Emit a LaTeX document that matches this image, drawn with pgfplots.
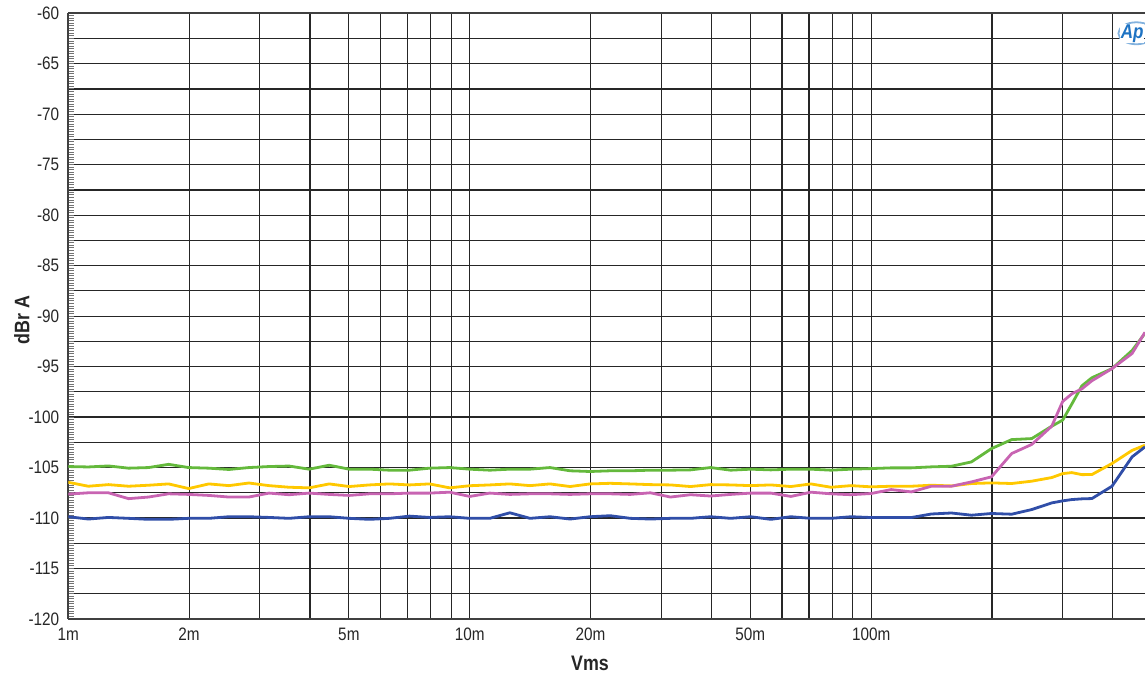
\documentclass[border=0pt]{standalone}
\usepackage{fontspec}
\setmainfont{Liberation Sans}[FakeStretch=0.85]
\usepackage{pgfplots}
\usepackage{pgfplotstable}
\pgfplotsset{compat=1.18}
\definecolor{cgreen}{RGB}{100,185,60}
\definecolor{cyellow}{RGB}{255,200,0}
\definecolor{cpink}{RGB}{200,100,178}
\definecolor{cblue}{RGB}{48,78,168}
\definecolor{apblue}{RGB}{30,115,195}
\pgfplotstableread{
x        g       y       p       b
0.001000 -104.90 -106.46 -107.63 -109.87
0.001122 -104.94 -106.85 -107.50 -110.10
0.001259 -104.84 -106.69 -107.50 -109.94
0.001413 -105.06 -106.85 -108.08 -110.03
0.001585 -105.00 -106.75 -107.92 -110.13
0.001778 -104.68 -106.62 -107.60 -110.13
0.001995 -105.00 -107.08 -107.66 -110.03
0.002239 -105.06 -106.62 -107.76 -110.03
0.002512 -105.19 -106.79 -107.92 -109.87
0.002818 -105.00 -106.53 -107.92 -109.87
0.003162 -104.90 -106.79 -107.53 -109.94
0.003548 -104.85 -106.95 -107.69 -110.03
0.003981 -105.16 -107.01 -107.53 -109.87
0.004467 -104.77 -106.62 -107.66 -109.87
0.005012 -105.16 -106.88 -107.76 -110.03
0.005623 -105.16 -106.72 -107.60 -110.13
0.006310 -105.26 -106.62 -107.60 -110.03
0.007079 -105.26 -106.72 -107.53 -109.81
0.007943 -105.06 -106.62 -107.53 -109.94
0.008913 -105.00 -107.01 -107.44 -109.87
0.01000  -105.16 -106.80 -107.86 -110.03
0.01122  -105.26 -106.72 -107.53 -110.03
0.01259  -105.16 -106.62 -107.66 -109.48
0.01413  -105.16 -106.79 -107.60 -110.03
0.01585  -105.00 -106.62 -107.60 -109.87
0.01778  -105.32 -106.88 -107.66 -110.10
0.01995  -105.39 -106.62 -107.60 -109.87
0.02239  -105.32 -106.56 -107.60 -109.77
0.02512  -105.32 -106.62 -107.66 -110.03
0.02818  -105.26 -106.69 -107.50 -110.10
0.03162  -105.26 -106.72 -107.92 -110.03
0.03548  -105.23 -106.88 -107.69 -110.03
0.03981  -105.00 -106.69 -107.82 -109.87
0.04467  -105.26 -106.72 -107.66 -110.03
0.05012  -105.16 -106.79 -107.53 -109.87
0.05623  -105.23 -106.72 -107.53 -110.13
0.06310  -105.16 -106.88 -107.86 -109.87
0.07079  -105.16 -106.62 -107.44 -110.03
0.07943  -105.26 -106.95 -107.60 -110.03
0.08913  -105.16 -106.79 -107.69 -109.87
0.1000   -105.10 -106.91 -107.57 -109.95
0.1122   -105.03 -106.85 -107.18 -109.95
0.1259   -105.03 -106.85 -107.41 -109.95
0.1413   -104.93 -106.75 -106.85 -109.60
0.1585   -104.87 -106.82 -106.85 -109.50
0.1778   -104.44 -106.58 -106.42 -109.72
0.1995   -103.12 -106.52 -105.92 -109.55
0.2239   -102.23 -106.58 -103.61 -109.62
0.2512   -102.13 -106.35 -102.71 -109.16
0.2818   -100.90 -105.99 -100.90 -108.50
0.3000   -100.30 -105.60 -98.45  -108.30
0.3162   -98.70  -105.50 -97.70  -108.17
0.3350   -96.90  -105.70 -97.20  -108.10
0.3548   -96.10  -105.69 -96.40  -108.07
0.3981   -95.20  -104.60 -95.20  -106.85
0.4467   -93.40  -103.30 -93.70  -103.94
0.4810   -91.70  -102.79 -91.60  -102.95
}\data
\begin{document}
\begin{tikzpicture}
\begin{axis}[
  name=ax,
  scale only axis,
  width=538.35pt, height=302.85pt,
  xmode=log,
  xmin=0.001, xmax=0.481,
  ymin=-120, ymax=-60,
  axis x line*=box, axis y line*=left,
  axis line style={black!75, line width=0.8pt},
  xtick={0.001,0.002,0.005,0.01,0.02,0.05,0.1},
  xticklabels={1m,2m,5m,10m,20m,50m,100m},
  minor xtick={0.003,0.004,0.006,0.007,0.008,0.009,0.03,0.04,0.06,0.07,0.08,0.09,0.2,0.3,0.4},
  ytick={-120,-117.5,...,-60},
  yticklabels={-120,{},-115,{},-110,{},-105,{},-100,{},-95,{},-90,{},-85,{},-80,{},-75,{},-70,{},-65,{},-60},
  minor y tick num=9,
  xmajorgrids, xminorgrids, ymajorgrids,
  major grid style={black!85, line width=0.6pt},
  minor grid style={black!85, line width=0.6pt},
  x tick style={draw=none},
  y tick style={black!55, line width=0.5pt},
  tick align=inside,
  major tick length=3pt, minor tick length=3pt,
  tick label style={font=\fontsize{9}{10}\selectfont, text=black!85},
  yticklabel style={xshift=-1pt},
  xticklabel style={yshift=-1pt},
  xlabel={Vms}, ylabel={dBr A},
  label style={font=\bfseries\fontsize{10.5}{12}\selectfont, text=black!85},
  xlabel style={at={(axis description cs:0.4845,-0.0726)}, anchor=center},
  ylabel style={at={(axis description cs:-0.043,0.494)}, anchor=center},
  every axis plot/.append style={line width=1.4pt, line join=round},
]
\addplot[cgreen] table[x=x, y=g]{\data};
\addplot[cyellow] table[x=x, y=y]{\data};
\addplot[cblue] table[x=x, y=b]{\data};
\addplot[cpink] table[x=x, y=p]{\data};
\draw[apblue!55, line width=0.9pt] (rel axis cs:0.992,0.967) ellipse [x radius=9pt, y radius=5.5pt];
\node[fill=white, text=apblue, font=\bfseries\itshape\fontsize{10}{10}\selectfont, inner sep=0.3pt] at (rel axis cs:0.988,0.967) {Ap};
\end{axis}
\pgfresetboundingbox
\path ([xshift=-34.15pt,yshift=-28.5pt]ax.south west) rectangle ([yshift=6.65pt]ax.north east);
\end{tikzpicture}
\end{document}
